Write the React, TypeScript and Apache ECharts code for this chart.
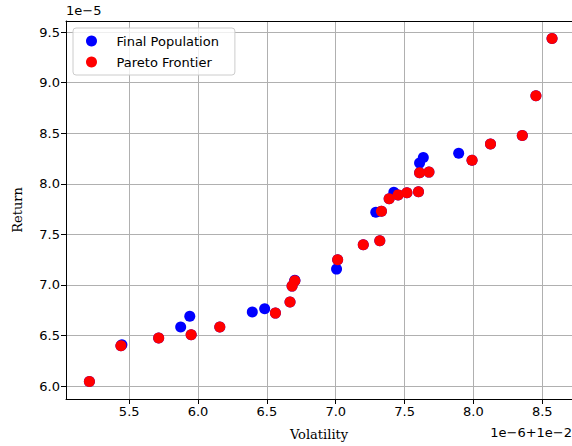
import React, { useEffect, useRef } from "react";
import * as echarts from "echarts";

// Volatility in units of 1e-6 (offset +1e-2), Return in units of 1e-5
const finalPopulationOnly: [number, number][] = [
  [5.447, 6.408], [5.874, 6.583], [5.94, 6.69], [6.394, 6.731], [6.484, 6.764],
  [6.703, 7.047], [7.006, 7.156], [7.291, 7.719], [7.422, 7.917], [7.609, 8.204],
  [7.636, 8.26], [7.893, 8.302],
];

const paretoFrontier: [number, number][] = [
  [5.211, 6.046], [5.44, 6.398], [5.714, 6.474], [5.95, 6.507], [6.158, 6.583],
  [6.562, 6.721], [6.668, 6.83], [6.683, 6.988], [6.703, 7.04], [7.014, 7.248],
  [7.2, 7.396], [7.32, 7.436], [7.332, 7.729], [7.388, 7.851], [7.453, 7.89],
  [7.517, 7.91], [7.601, 7.92], [7.609, 8.108], [7.677, 8.115], [7.99, 8.233],
  [8.124, 8.394], [8.355, 8.477], [8.454, 8.869], [8.571, 9.436],
];

const seriesNames = ["Final Population", "Pareto Frontier"];
const xRange = [5.041, 8.716];
const yRange = [5.872, 9.609];

const SANS = "DejaVu Sans";
const SERIF = "DejaVu Serif";

export default function App() {
  const ref = useRef<HTMLDivElement>(null);
  useEffect(() => {
    if (!ref.current) return;
    const chart = echarts.init(ref.current, null, { renderer: "svg" });
    const tickLabel = { color: "#000", fontFamily: SANS, fontSize: 13 };
    chart.setOption({
      animation: false,
      backgroundColor: "#fff",
      grid: { left: 66, right: 0, top: 21, bottom: 47 },
      legend: {
        orient: "vertical",
        left: 73,
        top: 28,
        padding: [5, 16, 5, 13],
        itemWidth: 40,
        itemHeight: 11,
        itemGap: 5,
        icon: "circle",
        backgroundColor: "rgba(255,255,255,0.8)",
        borderColor: "#cccccc",
        borderWidth: 1,
        borderRadius: 3,
        textStyle: { color: "#000", fontFamily: SANS, fontSize: 13, lineHeight: 16 },
        data: seriesNames,
      },
      xAxis: [
        {
          type: "value",
          min: xRange[0],
          max: xRange[1],
          splitNumber: 7,
          minInterval: 0.5,
          maxInterval: 0.5,
          name: "Volatility",
          nameLocation: "middle",
          nameGap: 29,
          nameTextStyle: { color: "#000", fontFamily: SERIF, fontSize: 13 },
          axisLine: { show: true, onZero: false, lineStyle: { color: "#000", width: 1 } },
          axisTick: { show: true, length: 5, lineStyle: { color: "#000" } },
          axisLabel: {
            ...tickLabel,
            margin: 6,
            showMinLabel: false,
            showMaxLabel: false,
            formatter: (v: number) => v.toFixed(1),
          },
          splitLine: { show: true, lineStyle: { color: "#b0b0b0", width: 1 } },
        },
        {
          type: "value",
          position: "top",
          min: xRange[0],
          max: xRange[1],
          axisLine: { show: true, onZero: false, lineStyle: { color: "#000", width: 1 } },
          axisTick: { show: false },
          axisLabel: { show: false },
          splitLine: { show: false },
        },
      ],
      yAxis: {
        type: "value",
        min: yRange[0],
        max: yRange[1],
        splitNumber: 7,
        minInterval: 0.5,
        maxInterval: 0.5,
        name: "Return",
        nameLocation: "middle",
        nameRotate: 90,
        nameGap: 42,
        nameTextStyle: { color: "#000", fontFamily: SERIF, fontSize: 13 },
        axisLine: { show: true, onZero: false, lineStyle: { color: "#000", width: 1 } },
        axisTick: { show: true, length: 5, lineStyle: { color: "#000" } },
        axisLabel: {
          ...tickLabel,
          margin: 6,
          showMinLabel: false,
          showMaxLabel: false,
          formatter: (v: number) => v.toFixed(1),
        },
        splitLine: { show: true, lineStyle: { color: "#b0b0b0", width: 1 } },
      },
      graphic: [
        {
          type: "text",
          left: 66,
          top: 4,
          style: { text: "1e\u22125", fill: "#000", font: `13px "${SANS}"` },
        },
        {
          type: "text",
          right: 0,
          top: 426,
          style: { text: "1e\u22126+1e\u22122", fill: "#000", font: `13px "${SANS}"` },
        },
      ],
      series: [
        {
          name: seriesNames[0],
          type: "scatter",
          symbolSize: 11,
          itemStyle: { color: "#0000ff", opacity: 1 },
          data: [...finalPopulationOnly, ...paretoFrontier],
          z: 2,
        },
        {
          name: seriesNames[1],
          type: "scatter",
          symbolSize: 11,
          itemStyle: { color: "#ff0000", opacity: 1 },
          data: paretoFrontier,
          z: 3,
        },
      ],
    });
    return () => chart.dispose();
  }, []);
  return (
    <div
      ref={ref}
      style={{ position: "fixed", left: 0, top: 0, width: 572, height: 446, background: "#fff" }}
    />
  );
}
